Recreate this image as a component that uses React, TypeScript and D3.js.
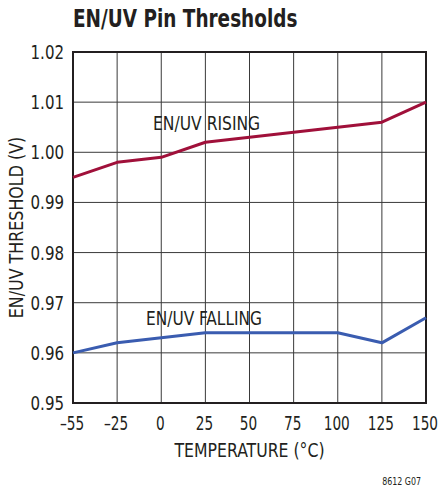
import React from 'react';
import * as d3 from 'd3';

// temperature categories (°C) – the grid is evenly spaced per label
const temps = ['–55', '–25', '0', '25', '50', '75', '100', '125', '150'];
const rising = [0.995, 0.998, 0.999, 1.002, 1.003, 1.004, 1.005, 1.006, 1.01];
const falling = [0.96, 0.962, 0.963, 0.964, 0.964, 0.964, 0.964, 0.962, 0.967];
const yTicks = [0.95, 0.96, 0.97, 0.98, 0.99, 1.0, 1.01, 1.02];

const FONT = "'DejaVu Sans Condensed', 'Liberation Sans', sans-serif";
const INK = '#231f20';

type TProps = {
  x: number; y: number; size: number; sx: number;
  anchor?: 'start' | 'middle' | 'end'; bold?: boolean; rotate?: number;
  children: React.ReactNode;
};

// squeezed text, the original uses a condensed face
const T = ({ x, y, size, sx, anchor = 'start', bold, rotate = 0, children }: TProps) => (
  <text transform={`translate(${x},${y}) rotate(${rotate}) scale(${sx},1)`}
    fontSize={size} fontWeight={bold ? 'bold' : 'normal'} textAnchor={anchor} fill={INK}>
    {children}
  </text>
);

const App: React.FC = () => {
  const width = 440;
  const height = 489;
  const margin = { top: 52, right: 14, bottom: 86, left: 73 };

  const x = d3.scalePoint<string>()
    .domain(temps)
    .range([margin.left, width - margin.right]);

  const y = d3.scaleLinear()
    .domain([0.95, 1.02])
    .range([height - margin.bottom, margin.top]);

  const line = d3.line<number>()
    .x((_, i) => x(temps[i])!)
    .y(d => y(d));

  const x0 = margin.left;
  const x1 = width - margin.right;
  const y0 = y(0.95);
  const y1 = y(1.02);

  return (
    <svg width={width} height={height} style={{ position: 'absolute', left: 0, top: 0 }}
      fontFamily={FONT}>
      <rect width={width} height={height} fill="#fff" />
      <T x={73} y={27} size={25} sx={0.82} bold>EN/UV Pin Thresholds</T>

      {/* grid */}
      <g stroke="#3a3a3a" strokeWidth={1}>
        {temps.map(t => (
          <line key={t} x1={x(t)} x2={x(t)} y1={y1} y2={y0} />
        ))}
        {yTicks.map(v => (
          <line key={v} x1={x0} x2={x1} y1={y(v)} y2={y(v)} />
        ))}
      </g>
      <rect x={x0} y={y1} width={x1 - x0} height={y0 - y1} fill="none" stroke={INK} strokeWidth={2} />

      {/* y tick labels */}
      {yTicks.map(v => (
        <T key={v} x={x0 - 9} y={y(v) + 7} size={19} sx={0.88} anchor="end">{d3.format('.2f')(v)}</T>
      ))}

      {/* x tick labels */}
      {temps.map(t => (
        <T key={t} x={x(t)! - 1} y={y0 + 27} size={19} sx={0.8} anchor="middle">{t}</T>
      ))}

      <T x={(x0 + x1) / 2} y={457} size={19} sx={0.92} anchor="middle">TEMPERATURE (°C)</T>
      <T x={23} y={(y0 + y1) / 2} size={19} sx={0.93} anchor="middle" rotate={-90}>EN/UV THRESHOLD (V)</T>

      {/* series */}
      <path d={line(rising)!} fill="none" stroke="#a0103a" strokeWidth={3} strokeLinejoin="round" />
      <path d={line(falling)!} fill="none" stroke="#3a5cb0" strokeWidth={3} strokeLinejoin="round" />

      <T x={153} y={130} size={19} sx={0.91}>EN/UV RISING</T>
      <T x={146} y={325} size={19} sx={0.9}>EN/UV FALLING</T>

      <T x={421} y={485} size={11} sx={0.8} anchor="end">8612 G07</T>
    </svg>
  );
};

export default App;
